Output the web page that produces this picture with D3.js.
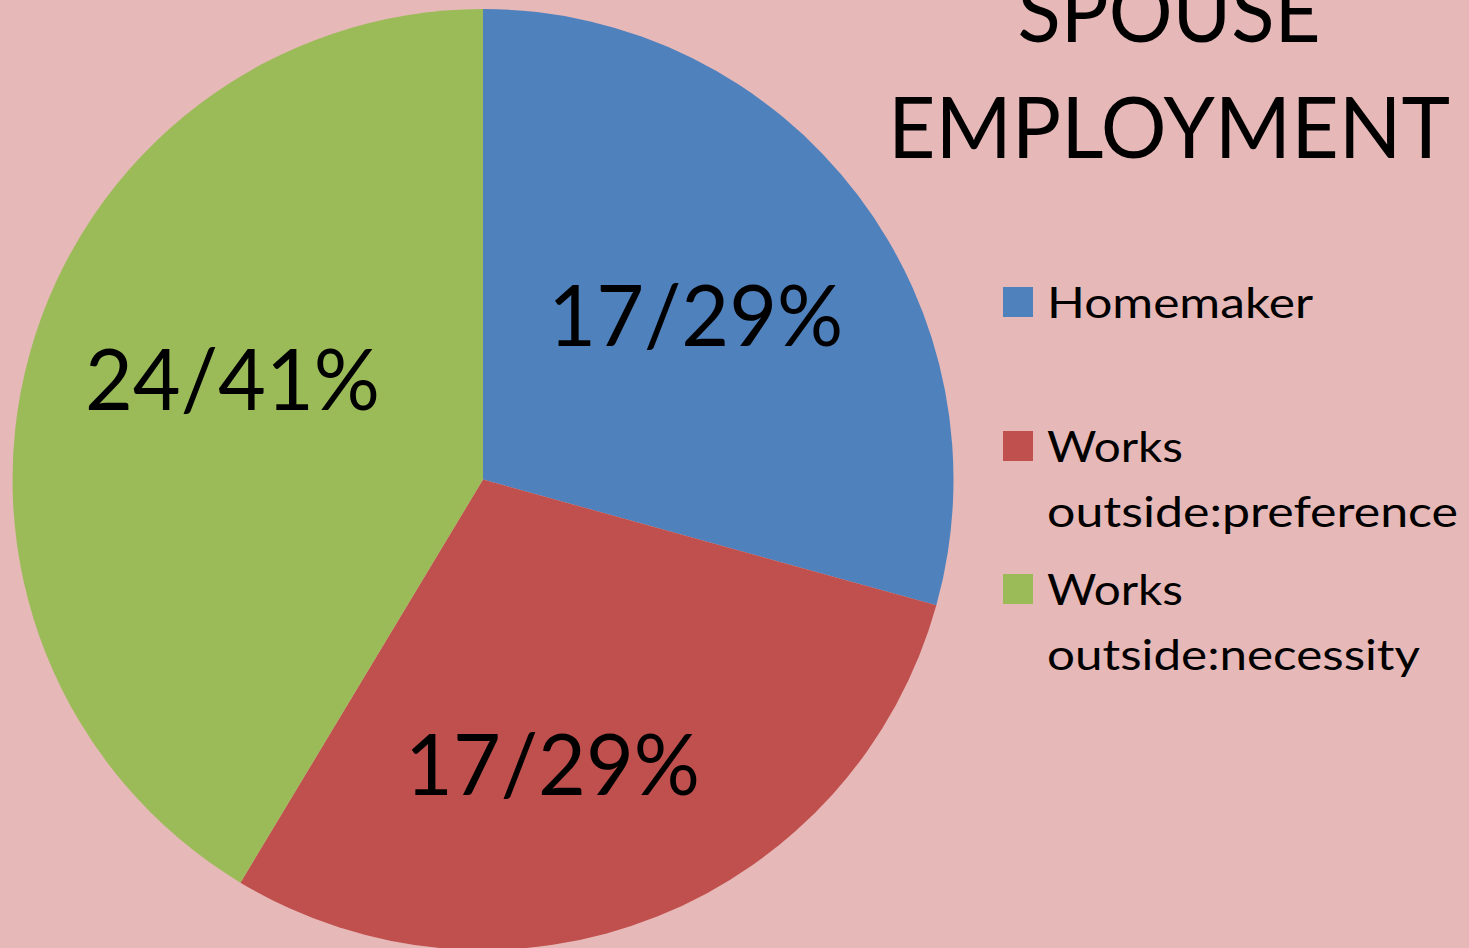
<!DOCTYPE html>
<html>
<head>
<meta charset="utf-8">
<script src="https://cdn.jsdelivr.net/npm/d3@7"></script>
<style>
  html, body { margin: 0; padding: 0; background: #E6B8B7; overflow: hidden; }
  svg { display: block; }
  text { font-family: Lato, "Open Sans", sans-serif; fill: #000; }
</style>
</head>
<body>
<svg id="chart" width="1469" height="948"></svg>
<script>
// ---- data ----
const categories = ["Homemaker", "Works outside:preference", "Works outside:necessity"];
const legendLines = [["Homemaker"], ["Works", "outside:preference"], ["Works", "outside:necessity"]];
const counts = [17, 17, 24];
const percents = [29, 29, 41];
const colors = ["#4F81BD", "#C0504D", "#9BBB59"];
const titleLines = ["SPOUSE", "EMPLOYMENT"];

// ---- layout (label placement, best-fit style) ----
const labelRadius = [251, 323, 260];
const labelAngleShiftDeg = [5.2, 9.3, 0];

const W = 1469, H = 948;
const cx = 483, cy = 479.5, R = 470.5;
const svg = d3.select("#chart");
svg.append("rect").attr("width", W).attr("height", H).attr("fill", "#E6B8B7");

const pie = d3.pie().sort(null).value(d => d)(counts);
const arc = d3.arc().innerRadius(0).outerRadius(R);

const g = svg.append("g").attr("transform", `translate(${cx},${cy})`);
g.selectAll("path.slice").data(pie).join("path")
  .attr("class", "slice")
  .attr("d", arc)
  .attr("fill", (d, i) => colors[i]);

function labelPos(d, i) {
  const a = (d.startAngle + d.endAngle) / 2 + labelAngleShiftDeg[i] * Math.PI / 180;
  const r = labelRadius[i];
  return [r * Math.sin(a), -r * Math.cos(a)];
}

// data labels
const labelWidth = 295;
g.selectAll("text.lbl").data(pie).join("text")
  .attr("class", "lbl")
  .attr("x", (d, i) => labelPos(d, i)[0])
  .attr("y", (d, i) => labelPos(d, i)[1])
  .attr("text-anchor", "middle")
  .attr("font-size", 85)
  .attr("textLength", labelWidth)
  .attr("lengthAdjust", "spacingAndGlyphs")
  .text((d, i) => `${counts[i]}/${percents[i]}%`);

// title
const titleWidths = [303, 562];
svg.selectAll("text.title").data(titleLines).join("text")
  .attr("class", "title")
  .attr("x", 1169)
  .attr("y", (d, i) => 42 + i * 116)
  .attr("text-anchor", "middle")
  .attr("font-size", 85)
  .attr("textLength", (d, i) => titleWidths[i])
  .attr("lengthAdjust", "spacingAndGlyphs")
  .text(d => d);

// legend
const legendY = [318, 462, 605];
const lineH = 65;
const lg = svg.append("g");
const items = lg.selectAll("g.item").data(categories).join("g").attr("class", "item");
items.append("rect")
  .attr("x", 1003)
  .attr("y", (d, i) => legendY[i] - 31)
  .attr("width", 30).attr("height", 30)
  .attr("fill", (d, i) => colors[i]);
const widthMap = {"Homemaker": 266, "Works": 136, "outside:preference": 411, "outside:necessity": 373};
items.each(function(d, i) {
  d3.select(this).selectAll("text").data(legendLines[i]).join("text")
    .attr("x", 1047)
    .attr("y", (t, j) => legendY[i] + j * lineH)
    .attr("font-size", 42)
    .attr("textLength", t => widthMap[t])
    .attr("lengthAdjust", "spacingAndGlyphs")
    .text(t => t);
});
</script>
</body>
</html>
